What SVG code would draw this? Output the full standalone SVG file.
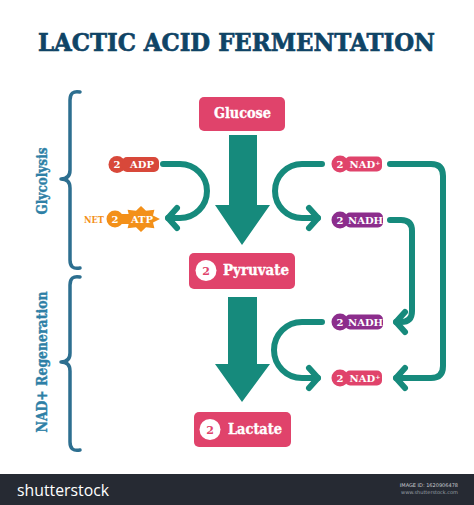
<svg xmlns="http://www.w3.org/2000/svg" width="474" height="505" viewBox="0 0 474 505">
<style>
.serif{font-family:"DejaVu Serif","Liberation Serif",serif;font-weight:bold}
.box{fill:#e0436b}
.teal{stroke:#168a7c;stroke-width:6;fill:none;stroke-linecap:round;stroke-linejoin:round}
.big{fill:#168a7c}
.brace{stroke:#2d6f90;stroke-width:3.5;fill:none;stroke-linecap:round;stroke-linejoin:round}
.side{fill:#2e7fa6;font-size:14px;stroke:#2e7fa6;stroke-width:0.4}
.lbl{fill:#ffffff;font-size:10px}
.boxt{fill:#ffffff;font-size:15px;stroke:#ffffff;stroke-width:0.35}
.num{fill:#e0436b;font-size:11px}
</style>
<defs>
<marker id="chev" markerUnits="userSpaceOnUse" markerWidth="30" markerHeight="30" viewBox="-15 -15 30 30" refX="0" refY="0" orient="auto">
<path d="M -9 -10 L 0 0 L -9 10" fill="none" stroke="#168a7c" stroke-width="6" stroke-linecap="round" stroke-linejoin="round"/>
</marker>
</defs>
<rect width="474" height="505" fill="#ffffff"/>
<text class="serif" x="38" y="51" font-size="25" fill="#0f4466" stroke="#0f4466" stroke-width="0.7" textLength="397" lengthAdjust="spacingAndGlyphs">LACTIC ACID FERMENTATION</text>

<g id="glycolysis-label">
<path class="brace" d="M 80 92 Q 70 90 70 100 V 170 Q 70 179 61 179 Q 70 179 70 188 V 260 Q 70 270 80 268"/>
<text class="serif side" transform="translate(47,181) rotate(-90)" text-anchor="middle" textLength="67" lengthAdjust="spacingAndGlyphs">Glycolysis</text>
</g>
<g id="regeneration-label">
<path class="brace" d="M 80 277 Q 70 275 70 285 V 353 Q 70 362 61 362 Q 70 362 70 371 V 442 Q 70 452 80 450"/>
<text class="serif side" transform="translate(47,362) rotate(-90)" text-anchor="middle" textLength="141" lengthAdjust="spacingAndGlyphs">NAD+ Regeneration</text>
</g>

<g id="connectors">
<polygon class="big" points="229,135 257,135 257,205 270,205 242,245 215,205 229,205"/>
<polygon class="big" points="228,297 257,297 257,364 270,364 242,402 215,364 228,364"/>
<path class="teal" d="M 163 164 H 180 A 27 27 0 0 1 180 218 H 168" marker-end="url(#chev)"/>
<path class="teal" d="M 322 164 H 302 A 27 27 0 0 0 302 218 H 318" marker-end="url(#chev)"/>
<path class="teal" d="M 390 164 H 431 Q 443 164 443 176 V 366 Q 443 378 431 378 H 396" marker-end="url(#chev)"/>
<path class="teal" d="M 390 220 H 401 Q 412 220 412 231 V 311 Q 412 322 401 322 H 396" marker-end="url(#chev)"/>
<path class="teal" d="M 322 322 H 302 A 28 28 0 0 0 302 378 H 318" marker-end="url(#chev)"/>
</g>

<g id="glucose">
<rect class="box" x="199" y="97" width="86" height="34" rx="5"/>
<text class="serif boxt" x="242.5" y="118" text-anchor="middle" font-size="14" textLength="57" lengthAdjust="spacingAndGlyphs">Glucose</text>
</g>
<g id="pyruvate">
<rect class="box" x="189" y="253" width="106" height="36" rx="5"/>
<circle cx="206" cy="270.5" r="10.5" fill="#ffffff"/>
<text class="serif num" x="206" y="274.5" text-anchor="middle">2</text>
<text class="serif boxt" x="223" y="275" textLength="66" lengthAdjust="spacingAndGlyphs">Pyruvate</text>
</g>
<g id="lactate">
<rect class="box" x="194" y="412" width="97" height="35" rx="5"/>
<circle cx="210" cy="429.5" r="10.5" fill="#ffffff"/>
<text class="serif num" x="210" y="433.5" text-anchor="middle">2</text>
<text class="serif boxt" x="228" y="434" textLength="54" lengthAdjust="spacingAndGlyphs">Lactate</text>
</g>

<g id="adp">
<circle cx="117" cy="164.5" r="8.5" fill="#d8483a"/>
<rect x="122" y="157" width="37" height="15" rx="5" fill="#d8483a"/>
<text class="serif lbl" x="117" y="168" text-anchor="middle">2</text>
<text class="serif lbl" x="142" y="168" text-anchor="middle">ADP</text>
</g>
<g id="atp">
<text class="serif" x="84" y="222.5" font-size="9.5" fill="#f39019" textLength="20" lengthAdjust="spacingAndGlyphs">NET</text>
<circle cx="115" cy="219" r="8.5" fill="#f39019"/>
<rect x="115" y="214" width="15" height="10" fill="#f39019"/>
<polygon fill="#f39019" points="160,219 153,215.6 154.4,209.8 146,210.7 141,206 136,210.7 127.6,209.8 129,215.6 122,219 129,222.4 127.6,228.2 136,227.3 141,232 146,227.3 154.4,228.2 153,222.4"/>
<text class="serif lbl" x="115" y="222.5" text-anchor="middle">2</text>
<text class="serif lbl" x="142" y="222.5" text-anchor="middle">ATP</text>
</g>

<g id="nad-top">
<circle cx="340" cy="164" r="8.5" fill="#e0436b"/>
<rect x="345" y="156.5" width="37" height="15" rx="5" fill="#e0436b"/>
<text class="serif lbl" x="340" y="167.5" text-anchor="middle">2</text>
<text class="serif lbl" x="365" y="167.5" text-anchor="middle">NAD⁺</text>
</g>
<g id="nadh-top">
<circle cx="340" cy="220" r="8.5" fill="#8c2d8c"/>
<rect x="345" y="212.5" width="38" height="15" rx="5" fill="#8c2d8c"/>
<text class="serif lbl" x="340" y="223.5" text-anchor="middle">2</text>
<text class="serif lbl" x="365.5" y="223.5" text-anchor="middle">NADH</text>
</g>
<g id="nadh-bottom">
<circle cx="340" cy="322" r="8.5" fill="#8c2d8c"/>
<rect x="345" y="314.5" width="38" height="15" rx="5" fill="#8c2d8c"/>
<text class="serif lbl" x="340" y="325.5" text-anchor="middle">2</text>
<text class="serif lbl" x="365.5" y="325.5" text-anchor="middle">NADH</text>
</g>
<g id="nad-bottom">
<circle cx="340" cy="378" r="8.5" fill="#e0436b"/>
<rect x="345" y="370.5" width="37" height="15" rx="5" fill="#e0436b"/>
<text class="serif lbl" x="340" y="381.5" text-anchor="middle">2</text>
<text class="serif lbl" x="365" y="381.5" text-anchor="middle">NAD⁺</text>
</g>

<g id="footer">
<rect x="0" y="474" width="474" height="31" fill="#262a33"/>
<text x="17" y="496" font-family="'Open Sans','DejaVu Sans',sans-serif" font-size="17" fill="#ffffff" textLength="92" lengthAdjust="spacingAndGlyphs">shutterstock</text>
<text x="458" y="487" font-family="'DejaVu Sans',sans-serif" font-size="5" fill="#c8ccd2" text-anchor="end">IMAGE ID: 1620906478</text>
<text x="458" y="494" font-family="'DejaVu Sans',sans-serif" font-size="5" fill="#9aa0a8" text-anchor="end">www.shutterstock.com</text>
</g>
</svg>
